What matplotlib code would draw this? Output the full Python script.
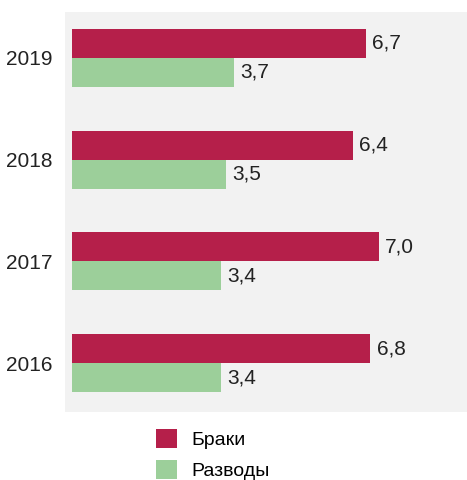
import matplotlib.pyplot as plt
import numpy as np

plt.rcParams['font.family'] = ['Liberation Sans', 'DejaVu Sans']

years = ["2016", "2017", "2018", "2019"]
marriages = [6.8, 7.0, 6.4, 6.7]
divorces = [3.4, 3.4, 3.5, 3.7]
labels = ["Браки", "Разводы"]

marriage_color = "#b51f4a"
divorce_color = "#9ccf9a"

fig = plt.figure(figsize=(4.67, 4.8), dpi=100)
ax = fig.add_axes([65 / 467, 1 - 412 / 480, 1 - 65 / 467, 400 / 480])
ax.set_facecolor("#f2f2f2")

y = np.arange(len(years))
h = 0.285
b1 = ax.barh(y + h / 2, marriages, height=h, color=marriage_color, label=labels[0])
b2 = ax.barh(y - h / 2, divorces, height=h, color=divorce_color, label=labels[1])

for bars, vals in [(b1, marriages), (b2, divorces)]:
    for bar, v in zip(bars, vals):
        ax.text(v + 0.14, bar.get_y() + bar.get_height() / 2, f"{v:.1f}".replace(".", ","),
                va="center", ha="left", fontsize=15, color="#222222")

ax.set_xlim(-0.16, 9.0)
ax.set_ylim(-0.48, 3.45)
ax.set_yticks(y)
ax.set_yticklabels(years, fontsize=15, color="#222222")
ax.set_xticks([])
ax.tick_params(axis="y", length=0, pad=9)
for s in ax.spines.values():
    s.set_visible(False)

fig.legend(handles=[b1, b2], labels=labels, loc="upper left",
           bbox_to_anchor=(142 / 467, 1 - 415 / 480), frameon=False,
           fontsize=14, handlelength=1.1, handleheight=1.15,
           handletextpad=0.75, labelspacing=0.58, borderaxespad=0.3)

fig.savefig("out.png", dpi=100)
